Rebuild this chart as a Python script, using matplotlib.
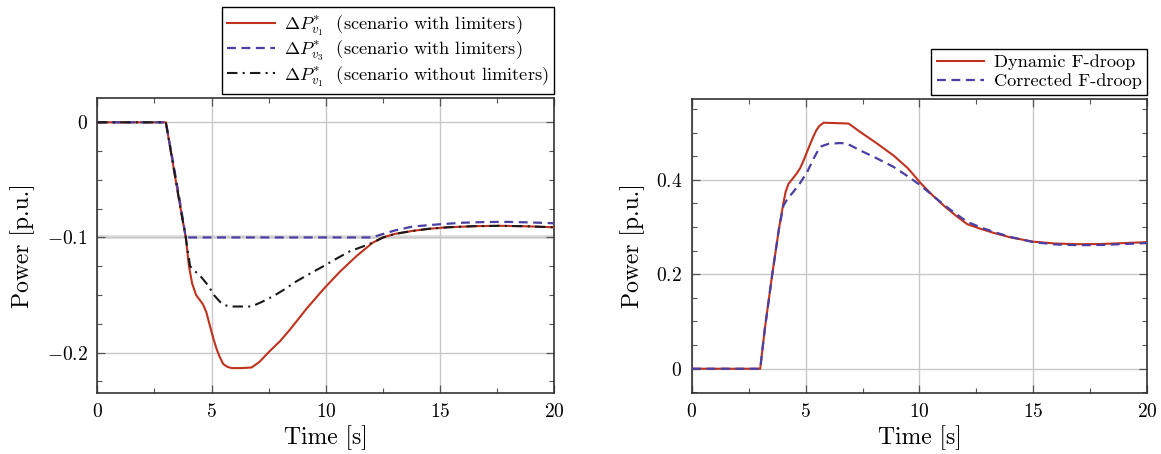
import matplotlib
matplotlib.use("Agg")
import matplotlib.pyplot as plt
from matplotlib.ticker import MultipleLocator

plt.rcParams['font.family'] = 'serif'
plt.rcParams['font.serif'] = ['cmr10']
plt.rcParams['mathtext.fontset'] = 'cm'
plt.rcParams['axes.formatter.use_mathtext'] = True

# ---------------- data: left panel ----------------
t_red_L = [0, 3.0, 3.3, 3.6, 3.87, 4.01, 4.15, 4.32, 4.47, 4.62, 4.77, 4.93, 5.08, 5.22, 5.36,
           5.51, 5.7, 5.88, 6.3, 6.75, 7.1, 7.55, 8.0, 8.43, 9.15, 9.89, 10.6, 11.35, 12.05,
           12.5, 13.0, 13.8, 14.5, 15.3, 16.5, 17.6, 18.8, 20.0]
v_red_L = [0, 0, -0.035, -0.07, -0.1, -0.125, -0.14, -0.15, -0.154, -0.158, -0.165, -0.177, -0.188,
           -0.197, -0.204, -0.210, -0.2125, -0.2135, -0.2135, -0.213, -0.208, -0.1986, -0.19, -0.180,
           -0.162, -0.145, -0.13, -0.116, -0.1045, -0.1, -0.097, -0.0943, -0.0925, -0.0912,
           -0.0902, -0.0899, -0.0903, -0.0912]

t_blue_L = [0, 3.0, 3.3, 3.6, 3.87, 12.0, 12.5, 13.0, 13.8, 15.0, 16.0, 17.0, 18.0, 19.0, 20.0]
v_blue_L = [0, 0, -0.033, -0.067, -0.1, -0.1, -0.097, -0.094, -0.0905, -0.0885, -0.0872,
            -0.0866, -0.0865, -0.087, -0.0877]

t_blk_L = [0, 3.0, 3.3, 3.6, 3.87, 4.06, 4.25, 4.49, 4.86, 5.1, 5.37, 5.6, 5.88, 6.75, 7.2, 7.7,
           8.2, 8.72, 9.3, 9.89, 10.5, 11.05, 11.6, 12.05, 12.5, 13.0, 13.8, 14.5, 15.3, 16.5,
           17.6, 18.8, 20.0]
v_blk_L = [0, 0, -0.035, -0.07, -0.1, -0.125, -0.129, -0.133, -0.142, -0.15, -0.156, -0.159,
           -0.160, -0.160, -0.156, -0.151, -0.145, -0.138, -0.1315, -0.125, -0.118, -0.112,
           -0.108, -0.1045, -0.1, -0.097, -0.0943, -0.0925, -0.0912, -0.0902, -0.0899, -0.0903,
           -0.0912]

limit_L = -0.1

labels_L = [r'$\Delta P^{*}_{v_1}$  (scenario with limiters)',
            r'$\Delta P^{*}_{v_3}$  (scenario with limiters)',
            r'$\Delta P^{*}_{v_1}$  (scenario without limiters)']

# ---------------- data: right panel ----------------
t_red_R = [0, 3.0, 3.2, 3.53, 3.83, 4.02, 4.12, 4.24, 4.42, 4.6, 4.76, 4.9, 5.05, 5.2, 5.34,
           5.47, 5.6, 5.79, 6.3, 6.89, 7.4, 8.1, 8.87, 9.5, 10.05, 10.6, 11.1, 11.6, 12.1, 12.7,
           13.3, 14.0, 15.0, 16.0, 17.0, 18.0, 19.0, 20.0]
v_red_R = [0, 0, 0.0835, 0.2, 0.298, 0.351, 0.375, 0.391, 0.402, 0.413, 0.425, 0.44, 0.458,
           0.476, 0.492, 0.505, 0.514, 0.5208, 0.520, 0.519, 0.501, 0.478, 0.451, 0.424, 0.393,
           0.366, 0.344, 0.324, 0.306, 0.296, 0.287, 0.278, 0.269, 0.265, 0.2636, 0.264, 0.266,
           0.268]

t_blue_R = [0, 3.0, 3.2, 3.53, 3.83, 4.02, 4.2, 4.45, 4.75, 5.05, 5.35, 5.63, 6.0, 6.5, 6.8,
            7.4, 8.1, 8.87, 9.5, 10.05, 10.6, 11.1, 11.6, 12.1, 12.7, 13.3, 14.0, 15.0, 16.0,
            17.0, 18.0, 19.0, 20.0]
v_blue_R = [0, 0, 0.083, 0.2, 0.298, 0.345, 0.36, 0.374, 0.393, 0.415, 0.445, 0.470, 0.476,
            0.4777, 0.477, 0.462, 0.446, 0.427, 0.407, 0.388, 0.366, 0.346, 0.328, 0.311, 0.299,
            0.289, 0.279, 0.268, 0.263, 0.2615, 0.262, 0.264, 0.266]

labels_R = ['Dynamic F-droop', 'Corrected F-droop']

# ---------------- ticks ----------------
xticks = [0, 5, 10, 15, 20]
xticklabels = ['0', '5', '10', '15', '20']
yticks_L = [-0.2, -0.1, 0]
yticklabels_L = [r'$-0.2$', r'$-0.1$', r'$0$']
yticks_R = [0, 0.2, 0.4]
yticklabels_R = [r'$0$', r'$0.2$', r'$0.4$']
xlim = (0, 20)
ylim_L = (-0.2354, 0.0214)
ylim_R = (-0.052, 0.572)

RED = '#c0321e'
BLUE = '#4a3fa3'
BLACK = '#1a1a1a'
GRID = '#c8c8c8'

fig = plt.figure(figsize=(11.61, 4.54), dpi=100)
axL = fig.add_axes([0.0838, 0.1337, 0.3938, 0.6511])
axR = fig.add_axes([0.5960, 0.1337, 0.3919, 0.6493])


def style(ax, yt, ytl, ymin_step):
    ax.set_xlim(*xlim)
    ax.set_xticks(xticks)
    ax.set_xticklabels([r'$%s$' % s for s in xticklabels])
    ax.set_yticks(yt)
    ax.set_yticklabels(ytl)
    ax.xaxis.set_minor_locator(MultipleLocator(2.5))
    ax.yaxis.set_minor_locator(MultipleLocator(ymin_step))
    ax.grid(True, which='major', color=GRID, lw=1.0, zorder=0)
    ax.tick_params(which='both', direction='in', top=True, right=True, color='#555555')
    ax.tick_params(which='major', length=5.5, width=0.9, labelsize=14, pad=7)
    ax.tick_params(which='minor', length=3.5, width=0.8)
    for s in ax.spines.values():
        s.set_color('#333333')
        s.set_linewidth(1.2)
    ax.set_xlabel('Time [s]', fontsize=17, labelpad=3)
    ax.set_ylabel('Power [p.u.]', fontsize=17, labelpad=8)


# left panel
style(axL, yticks_L, yticklabels_L, 0.025)
axL.set_ylim(*ylim_L)
axL.axhline(limit_L, color='#dcdcdc', lw=2.6, zorder=1)
axL.plot(t_red_L, v_red_L, color=RED, lw=1.5, label=labels_L[0], zorder=3)
axL.plot(t_blue_L, v_blue_L, color=BLUE, lw=1.6, ls=(0, (4, 2.5)), label=labels_L[1], zorder=4)
axL.plot(t_blk_L, v_blk_L, color=BLACK, lw=1.5, ls=(0, (5, 2.5, 1, 2.5)), label=labels_L[2], zorder=5)
legL = axL.legend(loc='lower right', bbox_to_anchor=(1.0, 1.012), borderaxespad=0,
                  fancybox=False, edgecolor='black', framealpha=1, fontsize=13.2,
                  handlelength=2.6, handletextpad=0.5, labelspacing=0.03, borderpad=0.3)
legL.get_frame().set_linewidth(1.0)

# right panel
style(axR, yticks_R, yticklabels_R, 0.05)
axR.set_ylim(*ylim_R)
axR.plot(t_red_R, v_red_R, color=RED, lw=1.5, label=labels_R[0], zorder=3)
axR.plot(t_blue_R, v_blue_R, color=BLUE, lw=1.6, ls=(0, (4, 2.5)), label=labels_R[1], zorder=4)
legR = axR.legend(loc='lower right', bbox_to_anchor=(1.0, 1.012), borderaxespad=0,
                  fancybox=False, edgecolor='black', framealpha=1, fontsize=13.2,
                  handlelength=2.6, handletextpad=0.5, labelspacing=0.2, borderpad=0.3)
legR.get_frame().set_linewidth(1.0)

fig.savefig('out.png', dpi=100)
